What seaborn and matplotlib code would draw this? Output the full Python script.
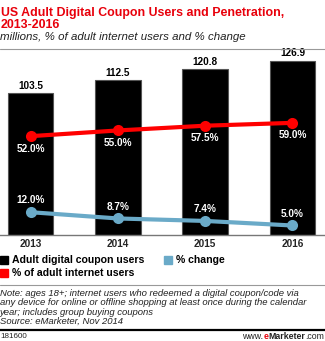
import numpy as np
import pandas as pd
import matplotlib
matplotlib.use("Agg")
import matplotlib.pyplot as plt
import seaborn as sns
from matplotlib.patches import Rectangle
from matplotlib.lines import Line2D

years = ["2013", "2014", "2015", "2016"]
users = [103.5, 112.5, 120.8, 126.9]
pct_internet = [52.0, 55.0, 57.5, 59.0]
pct_change = [12.0, 8.7, 7.4, 5.0]

RED = "#ff0000"
BLUE = "#6aaac8"
W, H = 325, 341

sns.set_style("white")
plt.rcParams["font.family"] = ["Liberation Sans", "DejaVu Sans"]

fig = plt.figure(figsize=(W / 100, H / 100), dpi=100)
renderer = fig.canvas.get_renderer()

def fy(py):
    return 1 - py / H

def fx(px):
    return px / W

def fit_size(text, target_px, base=8.0, **kw):
    t = fig.text(0, 0, text, fontsize=base, **kw)
    w = t.get_window_extent(renderer).width
    t.remove()
    return base * target_px / w

ax = fig.add_axes([0, fy(235), 1, fy(55) - fy(235)])
df = pd.DataFrame({"year": years, "users": users})
sns.barplot(data=df, x="year", y="users", color="black", width=0.52,
            edgecolor="#555555", linewidth=0.8, saturation=1, ax=ax)
ax.set_xlim(-0.35, 3.373)
ax.set_ylim(0, 130.9)
ax.bar_label(ax.containers[0], labels=[f"{v:.1f}" for v in users],
             padding=1.5, fontsize=7.2, fontweight="bold", color="black")
ax.set_xlabel("")
ax.set_ylabel("")
ax.set_yticks([])
ax.tick_params(axis="x", length=0, pad=3)
for lbl in ax.get_xticklabels():
    lbl.set_fontsize(7.2)
    lbl.set_fontweight("bold")
for s in ["top", "left", "right"]:
    ax.spines[s].set_visible(False)
ax.spines["bottom"].set_color("#777777")
ax.spines["bottom"].set_linewidth(1)
ax.patch.set_alpha(0)

ax2 = ax.twinx()
xpos = np.arange(len(years))
sns.lineplot(x=xpos, y=pct_internet, color=RED, linewidth=3, marker="o",
             markersize=8, markeredgewidth=0, ax=ax2)
sns.lineplot(x=xpos, y=pct_change, color=BLUE, linewidth=3, marker="o",
             markersize=8, markeredgewidth=0, ax=ax2)
ax2.set_ylim(0, 94.7)
ax2.set_yticks([])
ax2.set_ylabel("")
for s in ["top", "left", "right", "bottom"]:
    ax2.spines[s].set_visible(False)
for x, v in zip(xpos, pct_internet):
    ax2.annotate(f"{v:.1f}%", (x, v), xytext=(0, -9), textcoords="offset points",
                 ha="center", va="center", color="white", fontsize=7.2, fontweight="bold")
for x, v in zip(xpos, pct_change):
    ax2.annotate(f"{v:.1f}%", (x, v), xytext=(0, 8.5), textcoords="offset points",
                 ha="center", va="center", color="white", fontsize=7.2, fontweight="bold")

# Title and subtitle
title1 = "US Adult Digital Coupon Users and Penetration,"
ts = fit_size(title1, 283, fontweight="bold")
fig.text(fx(1), fy(16), title1, color="#e8000b",
         fontsize=ts, fontweight="bold", va="baseline", ha="left")
fig.text(fx(1), fy(28.5), "2013-2016", color="#e8000b",
         fontsize=ts, fontweight="bold", va="baseline", ha="left")
sub = "millions, % of adult internet users and % change"
ss = fit_size(sub, 248, style="italic")
fig.text(fx(0), fy(40.5), sub, color="#222222",
         fontsize=ss, style="italic", va="baseline", ha="left")
fig.add_artist(Line2D([0, 1], [fy(49), fy(49)], color="#999999", linewidth=0.8,
                      transform=fig.transFigure))

# Legend
def legend_item(px, py, color, text):
    fig.add_artist(Rectangle((fx(px), fy(py + 4)), 8 / W, 8 / H, color=color,
                             transform=fig.transFigure))
    fig.text(fx(px + 12), fy(py), text, fontsize=7.6, fontweight="bold",
             va="center", ha="left", color="black")

legend_item(0, 260, "black", "Adult digital coupon users")
legend_item(164, 260, BLUE, "% change")
legend_item(0, 273.3, RED, "% of adult internet users")

fig.add_artist(Line2D([0, 1], [fy(285), fy(285)], color="#999999", linewidth=0.8,
                      transform=fig.transFigure))

notes = [
    "Note: ages 18+; internet users who redeemed a digital coupon/code via",
    "any device for online or offline shopping at least once during the calendar",
    "year; includes group buying coupons",
    "Source: eMarketer, Nov 2014",
]
ns = fit_size(notes[1], 311, style="italic")
for i, t in enumerate(notes):
    fig.text(fx(0), fy(293 + i * 9.6), t, fontsize=ns, style="italic",
             va="center", ha="left", color="#222222")

fig.add_artist(Line2D([0, 1], [fy(329.5), fy(329.5)], color="black", linewidth=1.6,
                      transform=fig.transFigure))
fig.text(fx(0), fy(336.5), "181600", fontsize=5.8, va="center", ha="left", color="#222222")

parts = [("www.", "#222222", "normal"), ("e", "#e8000b", "bold"),
         ("Marketer", "#222222", "bold"), (".com", "#222222", "normal")]
widths = []
for s, c, w in parts:
    tt = fig.text(0, 0, s, fontsize=6.3, fontweight=w)
    widths.append(tt.get_window_extent(renderer).width)
    tt.remove()
cur = 324 - sum(widths)
for (s, c, w), wd in zip(parts, widths):
    fig.text(fx(cur), fy(336.5), s, fontsize=6.3, fontweight=w, color=c,
             va="center", ha="left")
    cur += wd

fig.savefig("out.png", dpi=100)
